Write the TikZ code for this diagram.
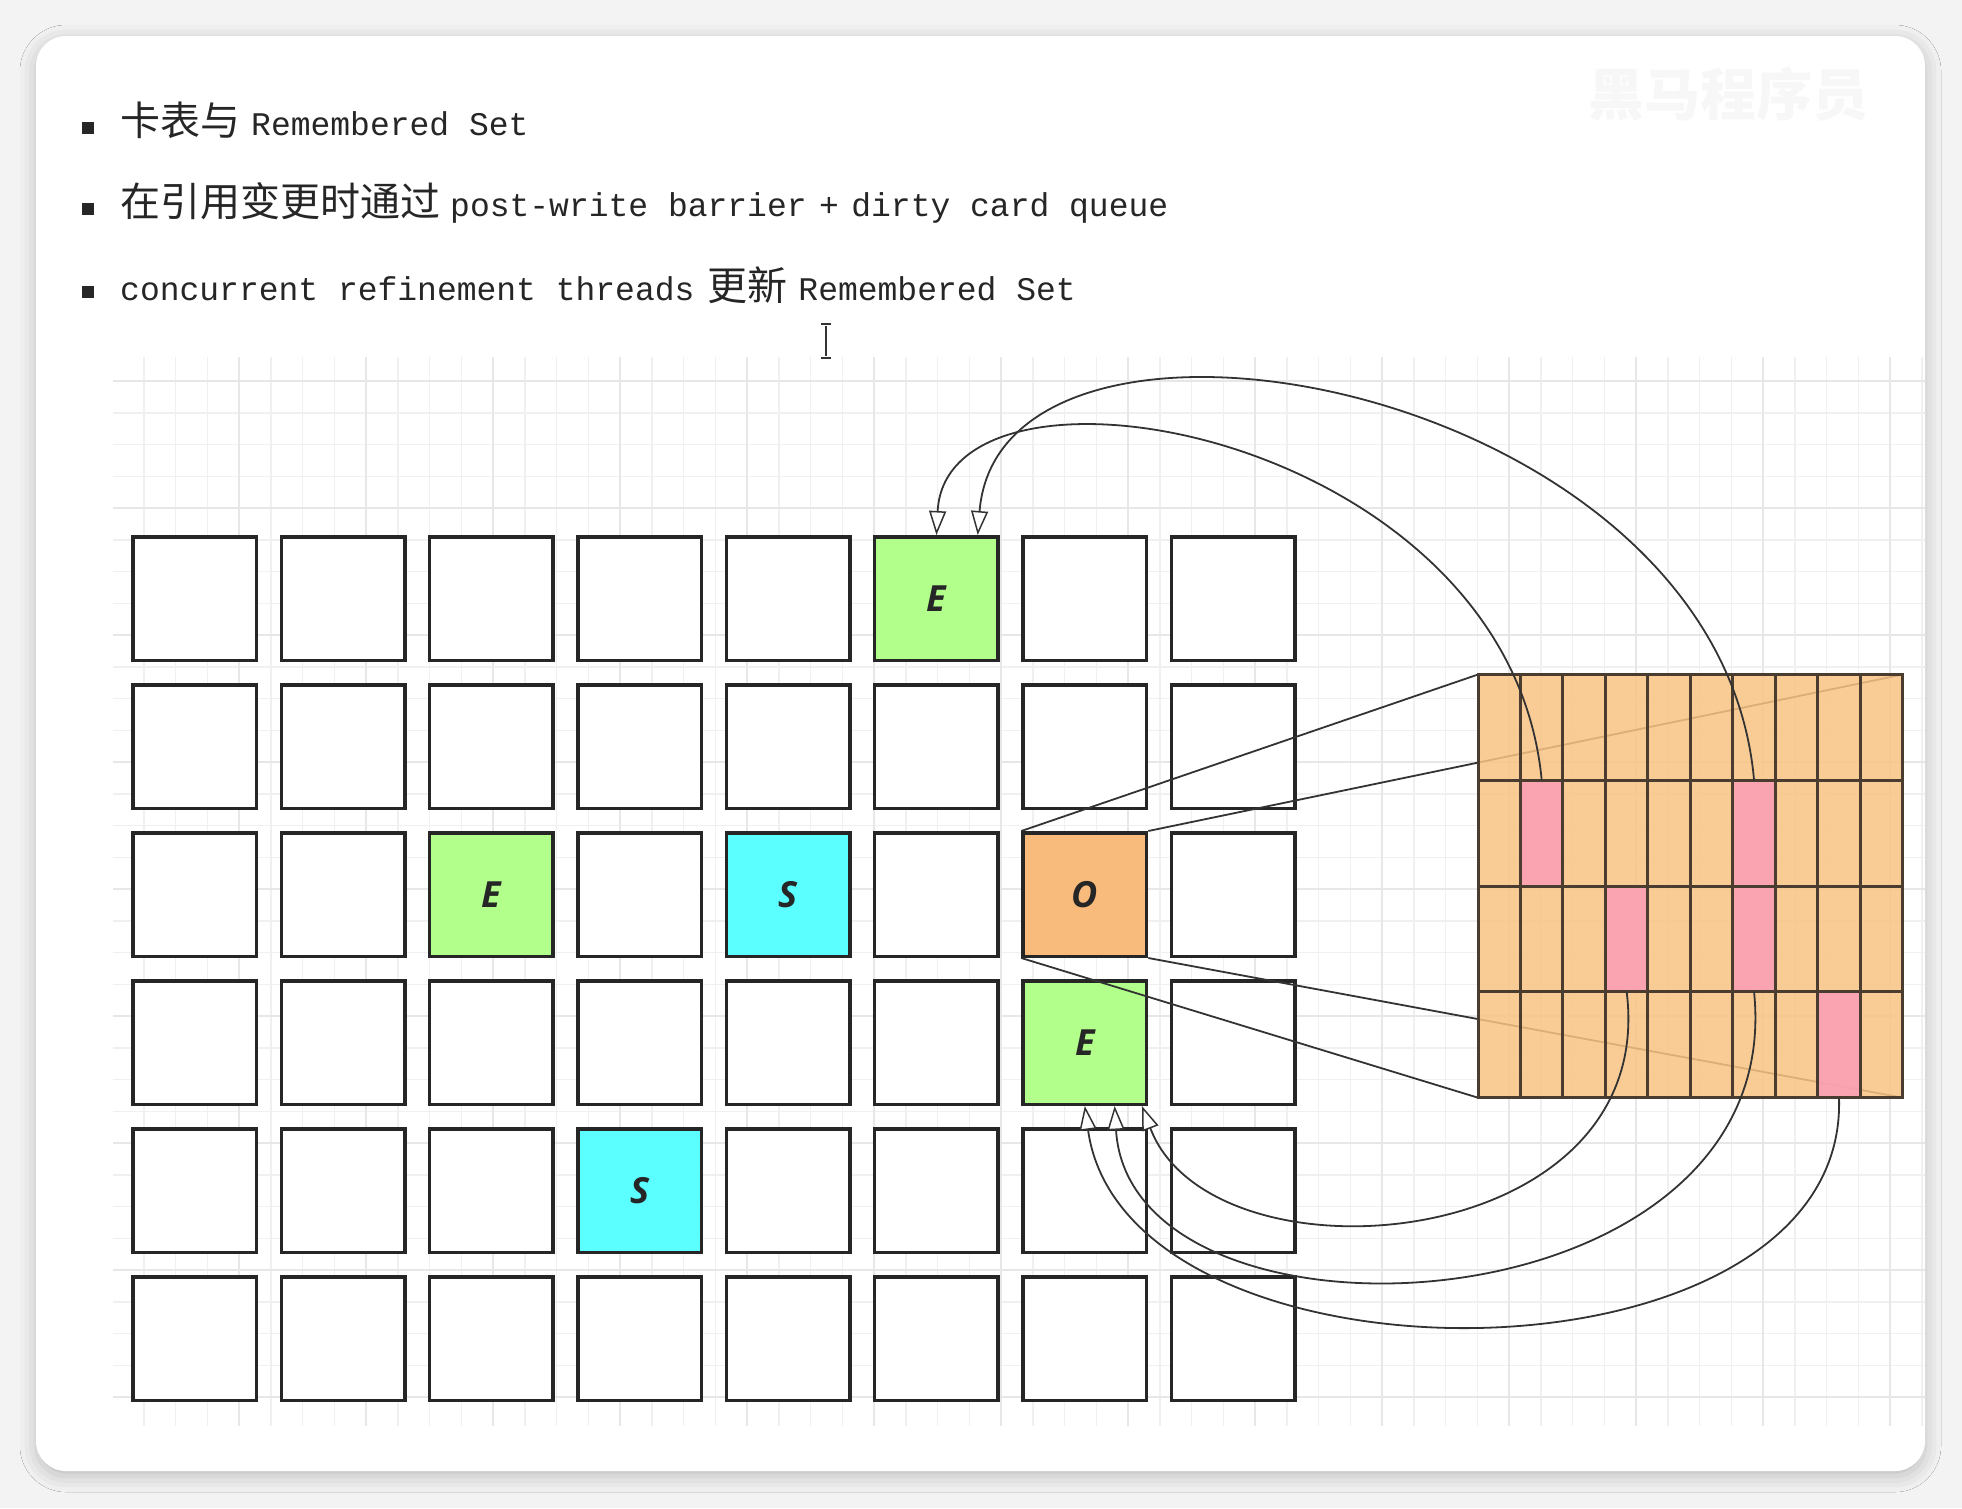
\documentclass[tikz,border=0pt]{standalone}
\usepackage{fontspec}
\setmonofont{Liberation Mono}
\newfontfamily\zhfont{Noto Sans CJK SC}
\newfontfamily\lblfont{Open Sans}
\usetikzlibrary{arrows.meta,calc,shadows.blur}
\definecolor{pagebg}{HTML}{F3F3F3}
\definecolor{gridminor}{HTML}{F0F0F0}
\definecolor{gridmajor}{HTML}{E7E7E7}
\definecolor{edengreen}{HTML}{B2FF8C}
\definecolor{survcyan}{HTML}{5CFFFF}
\definecolor{oldorange}{HTML}{F9BB7B}
\definecolor{cardfill}{HTML}{F9C483}
\definecolor{dirtypink}{HTML}{FC9EB7}
\definecolor{cardline}{HTML}{4A3C2E}
\definecolor{inkline}{HTML}{333333}

\newcommand{\zhtxt}[1]{{\zhfont\fontsize{40}{44}\selectfont #1}}
\newcommand{\codetxt}[1]{{\ttfamily\fontsize{33}{36}\selectfont #1}}

\tikzset{
  region/.style={draw=black!85, line width=3.5pt, fill=white, minimum size=123.5pt, inner sep=0pt,
    font=\lblfont\bfseries\itshape\fontsize{36}{36}\selectfont, text=black!85},
  card/.style={draw=cardline, line width=3pt, fill=cardfill, fill opacity=0.85, text opacity=1,
    minimum width=42.47pt, minimum height=105.8pt, inner sep=0pt, outer sep=0pt},
  refline/.style={inkline, line width=1.8pt},
  refarrow/.style={inkline, line width=1.8pt,
    -{Triangle[fill=white, length=24pt, width=17pt, line width=1.5pt]}},
  bulletbox/.style={fill=black!85, minimum size=12pt, inner sep=0pt},
  itemtext/.style={anchor=base west, inner sep=0pt, text=black!85},
}

\begin{document}
\begin{tikzpicture}[x=1pt,y=-1pt]
  \useasboundingbox (0,0) rectangle (1962,1508);
  % Page and slide
  \fill[pagebg] (0,0) rectangle (1962,1508);
  \fill[white, rounded corners=30pt, blur shadow={shadow xshift=0pt, shadow yshift=-5pt,
    shadow blur radius=16pt, shadow opacity=22}] (36,36) rectangle (1925,1471);
  \node[text=black!3, font=\zhfont\bfseries\fontsize{56}{56}\selectfont] (mark) at (1728,94) {黑马程序员};

  % Bullet list
  \node[bulletbox] (dot1) at (88,127.5) {};
  \node[itemtext] (item1) at (120,135.7) {\zhtxt{卡表与}\hspace{11pt}\codetxt{Remembered Set}};
  \node[bulletbox] (dot2) at (88,208.5) {};
  \node[itemtext] (item2) at (120,216.5) {\zhtxt{在引用变更时通过}\hspace{10pt}\codetxt{post-write barrier}\hspace{12.5pt}\codetxt{+}\hspace{12.5pt}\codetxt{dirty card queue}};
  \node[bulletbox] (dot3) at (88,292) {};
  \node[itemtext] (item3) at (120,300) {\codetxt{concurrent refinement threads}\hspace{13pt}\zhtxt{更新}\hspace{11pt}\codetxt{Remembered Set}};
  % Text cursor
  \draw[black!80, line width=2pt] (826,326) -- (826,356);
  \draw[black!80, line width=1.5pt] (821,324) -- (831,324) (821,358) -- (831,358);

  % Grid paper
  \begin{scope}
    \clip (113,357) rectangle (1925,1426);
    \foreach \k in {0,...,57}
      \draw[gridminor, line width=1.5pt] ({112+31.75*\k},357) -- ({112+31.75*\k},1426);
    \foreach \k in {-1,...,33}
      \draw[gridminor, line width=1.5pt] (113,{381+31.75*\k}) -- (1925,{381+31.75*\k});
    \foreach \k in {0,...,14}
      \draw[gridmajor, line width=2pt] ({112+127*\k},357) -- ({112+127*\k},1426);
    \foreach \k in {0,...,8}
      \draw[gridmajor, line width=2pt] (113,{381+127*\k}) -- (1925,{381+127*\k});
  \end{scope}

  % Heap regions
  \foreach \r in {0,...,5}
    \foreach \c in {0,...,7}
      \node[region] (b-\r-\c) at ({194.7+148.35*\c},{598.5+148*\r}) {};
  \node[region, fill=edengreen] (eTop) at (b-0-5) {E};
  \node[region, fill=edengreen] (eLeft) at (b-2-2) {E};
  \node[region, fill=survcyan] (sMid) at (b-2-4) {S};
  \node[region, fill=oldorange] (oBox) at (b-2-6) {O};
  \node[region, fill=edengreen] (eMid) at (b-3-6) {E};
  \node[region, fill=survcyan] (sLow) at (b-4-3) {S};

  % Card table corners
  \coordinate (tblNW) at (1478,674.5);
  \coordinate (tblNE) at (1902.7,674.5);
  \coordinate (tblSW) at (1478,1097.7);
  \coordinate (tblSE) at (1902.7,1097.7);
  \draw[refline] (oBox.north west) -- (tblNW);
  \draw[refline] (oBox.north east) -- (tblNE);
  \draw[refline] (oBox.south west) -- (tblSW);
  \draw[refline] (oBox.south east) -- (tblSE);

  % Card table
  \foreach \r in {0,...,3}
    \foreach \c in {0,...,9}
      \node[card] (card-\r-\c) at ({1478+42.47*(\c+0.5)},{674.5+105.8*(\r+0.5)}) {};
  \foreach \r/\c/\n in {1/1/1,1/6/2,2/3/3,2/6/4,3/8/5}
    \node[card, fill=dirtypink] (dirty-\n) at (card-\r-\c) {};

  % Remembered set references
  \draw[refarrow] (dirty-2.north) .. controls +(-35,-400) and +(22,-282) .. ($(eTop.north)!0.65!(eTop.north east)$);
  \draw[refarrow] (dirty-1.north) .. controls +(-33,-350) and +(10,-202) .. (eTop.north);
  \draw[refarrow] (dirty-3.south) .. controls +(33,263) and +(70,185) .. ($(eMid.south)!0.9!(eMid.south east)$);
  \draw[refarrow] (dirty-4.south) .. controls +(35,343) and +(15,262) .. ($(eMid.south)!0.47!(eMid.south east)$);
  \draw[refarrow] (dirty-5.south) .. controls +(10,300) and +(40,295) .. (eMid.south);
\end{tikzpicture}
\end{document}
